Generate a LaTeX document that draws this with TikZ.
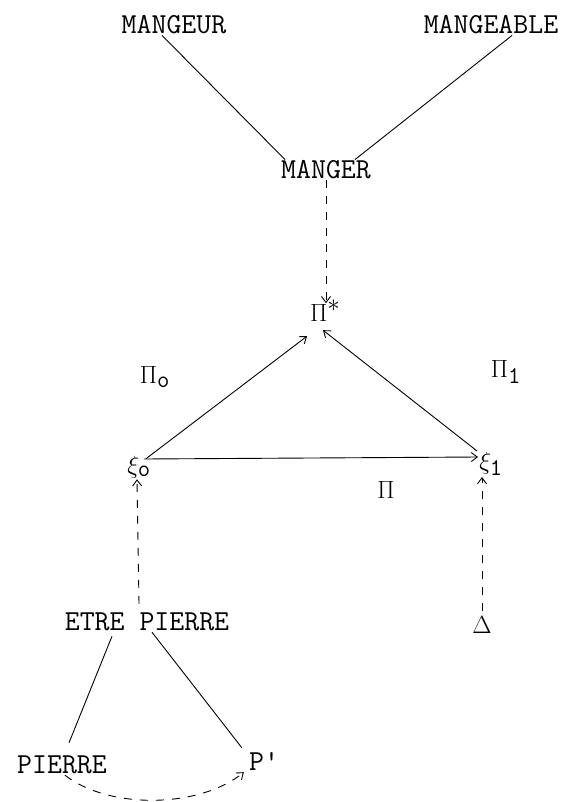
\documentclass[tikz,border=0pt]{standalone}
\usepackage{fontspec}
\usetikzlibrary{arrows.meta}
\tikzset{
  word/.style={font=\fontsize{29}{29}\selectfont\ttfamily, inner sep=1pt},
  sym/.style={font=\fontsize{24}{24}\selectfont, inner sep=1pt},
  link/.style={line width=0.9pt},
  dlink/.style={line width=0.9pt, dash pattern=on 8pt off 8pt},
  >={Straight Barb[length=6pt,width=9pt]}
}
\begin{document}
\begin{tikzpicture}[x=1pt,y=-1pt]
  \useasboundingbox (0,0) rectangle (565,802);
  % upper part
  \node[word] (mangeur) at (174,25) {MANGEUR};
  \node[word] (mangeable) at (491,25) {MANGEABLE};
  \node[word] (manger) at (326,170) {MANGER};
  \draw[link] ([xshift=-12pt]mangeur.south) -- ([xshift=-41pt]manger.north);
  \draw[link] ([xshift=21pt]mangeable.south) -- ([xshift=29pt]manger.north);
  \node[sym, anchor=base west] (pistar) at (309,321) {$\Pi^{\textstyle *}$};
  \draw[dlink,->] (manger.south) -- ([yshift=-4pt]manger.south |- pistar.north);
  % triangle
  \node[sym] (xi0) at (139,467) {$\xi_{\textstyle\mathtt{o}}$};
  \node[sym] (xi1) at (491,464) {$\xi_{\textstyle\mathtt{1}}$};
  \node[sym] (pi0) at (155,377) {$\Pi_{\textstyle\mathtt{o}}$};
  \node[sym] (pi1) at (506,372) {$\Pi_{\textstyle\mathtt{1}}$};
  \node[sym] (pi) at (386,490) {$\Pi$};
  \draw[link,->] ([xshift=-6pt,yshift=-4pt]xi0.north east) -- ([xshift=-2pt,yshift=-14pt]pistar.south west);
  \draw[link,->] ([xshift=-14pt]xi1.north) -- ([xshift=14pt,yshift=-8pt]pistar.south west);
  \draw[link,->] ([xshift=-8pt,yshift=8pt]xi0.east) -- ([yshift=7pt]xi1.west);
  % lower part
  \node[word] (etre) at (147,622) {ETRE PIERRE};
  \node[sym] (delta) at (482,625) {$\Delta$};
  \draw[dlink,->] ([yshift=8pt]xi0.south |- etre.north) -- ([xshift=-2pt]xi0.south);
  \draw[dlink,->] ([yshift=4pt]delta.north) -- (delta.north |- xi1.south);
  \node[word] (pierre) at (62,765) {PIERRE};
  \node[word] (pprime) at (264,762) {P'};
  \draw[link] ([xshift=-35pt,yshift=-4pt]etre.south) -- ([xshift=7pt,yshift=12pt]pierre.north);
  \draw[link] ([xshift=5pt]etre.south) -- ([xshift=-6pt,yshift=4pt]pprime.north west);
  \draw[dlink,->] ([xshift=3pt]pierre.south) .. controls (110,810) and (200,808) .. ([xshift=-4pt]pprime.south west);
\end{tikzpicture}
\end{document}
